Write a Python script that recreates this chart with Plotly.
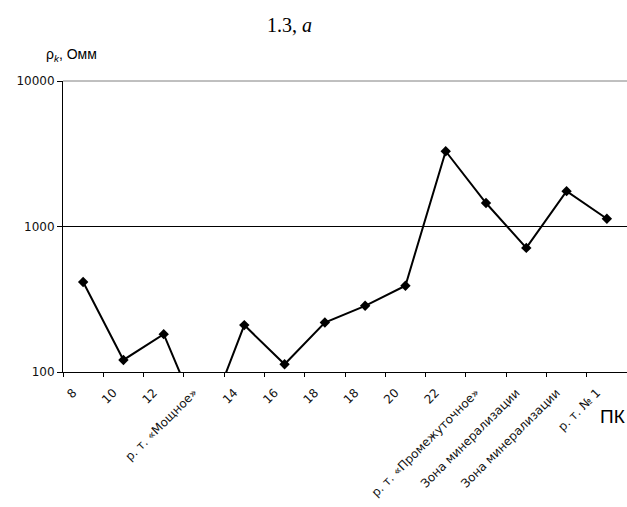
import plotly.graph_objects as go

# Profile stations (ПК) and apparent resistivity values along the line
stations = ["8", "10", "12", "р. т. «Мощное»", "14", "16", "18", "18", "20", "22",
            "р. т. «Промежуточное»", "Зона минерализации", "Зона минерализации", "р. т. № 1"]
rho_k = [415, 121, 182, 40, 210, 113, 219, 285, 392, 3290, 1450, 713, 1750, 1130]
y_ticks = [100, 1000, 10000]

positions = list(range(len(stations)))

fig = go.Figure()
fig.add_trace(go.Scatter(
    x=positions, y=rho_k, mode="lines+markers",
    line=dict(color="#000", width=2),
    marker=dict(symbol="diamond", size=8, color="#000"),
    cliponaxis=True, showlegend=False,
))

W, H = 627, 507
L, R, T, B = 63, 0, 81, 135
pw, ph = W - L - R, H - T - B


def px_x(px):
    return (px - L) / pw


def px_y(py):
    return (H - B - py) / ph


fig.update_layout(
    width=W, height=H,
    margin=dict(l=L, r=R, t=T, b=B, pad=0),
    paper_bgcolor="white", plot_bgcolor="white",
    font=dict(family="DejaVu Sans", size=12, color="#000"),
    xaxis=dict(
        range=[-0.5, len(stations) - 0.5],
        tickmode="array", tickvals=positions, ticktext=stations,
        tickangle=-45, ticks="outside", ticklen=0,
        ticklabelshift=-10, ticklabelstandoff=8,
        tickfont=dict(family="DejaVu Sans", size=12, color="#111"),
        showline=True, linecolor="#000", linewidth=1,
        showgrid=False, zeroline=False,
        minor=dict(tickmode="linear", tick0=-0.5, dtick=1,
                   ticks="outside", ticklen=4, tickcolor="#000", showgrid=False),
    ),
    yaxis=dict(
        type="log", range=[2, 4],
        tickmode="array", tickvals=y_ticks, ticktext=[str(v) for v in y_ticks],
        ticks="outside", ticklen=5, tickcolor="#000",
        tickfont=dict(family="DejaVu Sans", size=12, color="#111"),
        showline=True, linecolor="#000", linewidth=1,
        showgrid=True, gridcolor="#000", gridwidth=1,
        zeroline=False,
    ),
    # top frame line at the upper edge of the plot area
    shapes=[dict(type="line", xref="paper", yref="paper", x0=0, x1=1, y0=1, y1=1,
                 line=dict(color="#808080", width=1))],
    annotations=[
        dict(text="1.3, <i>a</i>", xref="paper", yref="paper",
             x=px_x(289), y=px_y(25), xanchor="center", yanchor="middle",
             showarrow=False, font=dict(family="Liberation Serif", size=20, color="#000")),
        dict(text="ρ<sub><i>k</i></sub>, Омм", xref="paper", yref="paper",
             x=px_x(44), y=px_y(55), xanchor="left", yanchor="middle",
             showarrow=False, font=dict(family="Liberation Sans", size=14, color="#000")),
        dict(text="ПК", xref="paper", yref="paper",
             x=px_x(627), y=px_y(417), xanchor="right", yanchor="middle",
             showarrow=False, font=dict(family="Liberation Sans", size=19, color="#000")),
    ],
)

fig.write_html("out.html")
